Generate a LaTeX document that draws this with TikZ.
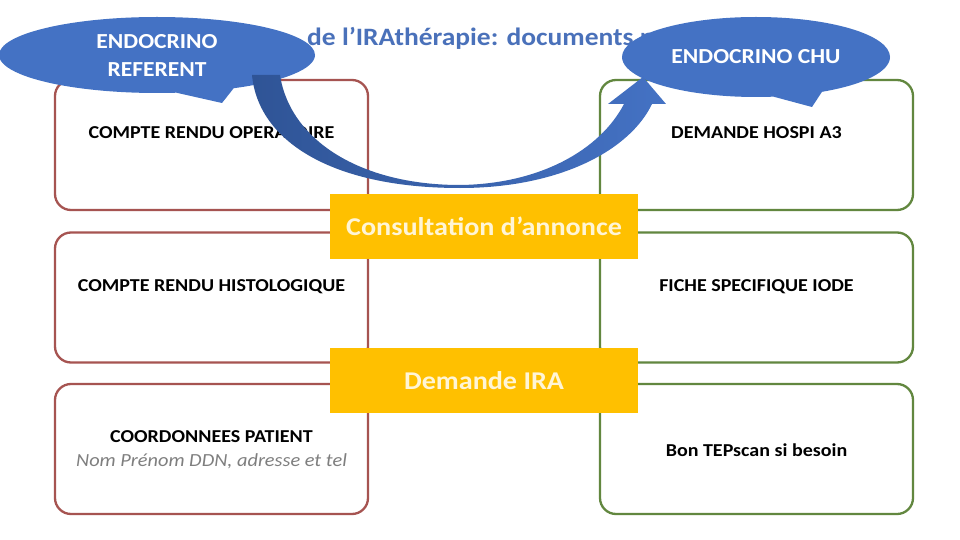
\documentclass[tikz,border=0pt]{standalone}
\usepackage{fontspec}
\setmainfont{Carlito}[FakeStretch=1.1]
\usetikzlibrary{shapes.geometric,shapes.callouts}
\definecolor{boxred}{HTML}{A65451}
\definecolor{boxgreen}{HTML}{62873F}
\definecolor{gold}{HTML}{FFC000}
\definecolor{cream}{HTML}{FFF5D6}
\definecolor{calloutblue}{HTML}{4472C4}
\definecolor{arrowdark}{HTML}{2F5496}
\definecolor{titleblue}{HTML}{4A71BA}
\definecolor{subgray}{HTML}{7F7F7F}
\begin{document}
\begin{tikzpicture}[x=1pt,y=-1pt,
  docbox/.style={line width=2.3pt, rounded corners=16pt, minimum width=313pt, minimum height=130pt, fill=white, inner sep=0pt},
  redbox/.style={docbox, draw=boxred},
  greenbox/.style={docbox, draw=boxgreen},
  boxtext/.style={font=\bfseries\fontsize{18.2}{22}\selectfont, text=black, inner sep=0pt, align=center},
  yellowbox/.style={fill=gold, minimum width=308pt, minimum height=65pt, text=cream, font=\bfseries\fontsize{25.6}{30}\selectfont, inner sep=0pt},
  bubble/.style={ellipse callout, fill=calloutblue, text=white, font=\bfseries\fontsize{21.4}{28}\selectfont, align=center, inner sep=0pt, callout pointer arc=22},
  titletext/.style={font=\bfseries\fontsize{25}{28}\selectfont, text=titleblue, inner sep=0pt, anchor=west}
]
\useasboundingbox[fill=white] (0,0) rectangle (960,540);

% title (partly hidden by the callouts)
\node[titletext] (title) at (307,38) {de l’IRAthérapie: documents n};

% left column
\node[redbox] (l1) at (211.5,145) {};
\node[redbox] (l2) at (211.5,297.5) {};
\node[redbox] (l3) at (211.5,449) {};
% right column
\node[greenbox] (r1) at (756.5,145) {};
\node[greenbox] (r2) at (756.5,297.5) {};
\node[greenbox] (r3) at (756.5,449) {};

\node[boxtext] (t1) at (211.5,133) {COMPTE RENDU OPERATOIRE};
\node[boxtext] (t2) at (211.5,287) {COMPTE RENDU HISTOLOGIQUE};
\node[boxtext] (t3) at (211.5,437) {COORDONNEES PATIENT};
\node[font=\itshape\fontsize{18.5}{22}\selectfont, text=subgray, inner sep=0pt] (t3b) at (211.5,461) {Nom Prénom DDN, adresse et tel};
\node[boxtext] (u1) at (756.5,133) {DEMANDE HOSPI A3};
\node[boxtext] (u2) at (756.5,287) {FICHE SPECIFIQUE IODE};
\node[boxtext] (u3) at (756.5,450) {Bon TEPscan si besoin};

% yellow steps
\node[yellowbox] (consult) at (484,226.5) {Consultation d’annonce};
\node[yellowbox] (demande) at (484,380.5) {Demande IRA};

% callouts
\node[bubble, minimum width=316pt, minimum height=76pt, callout absolute pointer={(222,103)}] (endoref) at (157,55) {ENDOCRINO\\REFERENT};
\node[bubble, minimum width=268pt, minimum height=80pt, callout absolute pointer={(812,107)}] (endochu) at (756,57) {ENDOCRINO CHU};

% curved arrow from referent to CHU
\shade[left color=arrowdark, right color=calloutblue]
  (252,75) .. controls (258,140) and (330,188) .. (460,188)
  .. controls (560,188) and (630,150) .. (652,104)
  -- (666,104) -- (643,77) -- (608,104) -- (624,104)
  .. controls (600,150) and (540,184) .. (460,185)
  .. controls (360,185) and (290,140) .. (280,75)
  -- cycle;
\end{tikzpicture}
\end{document}
